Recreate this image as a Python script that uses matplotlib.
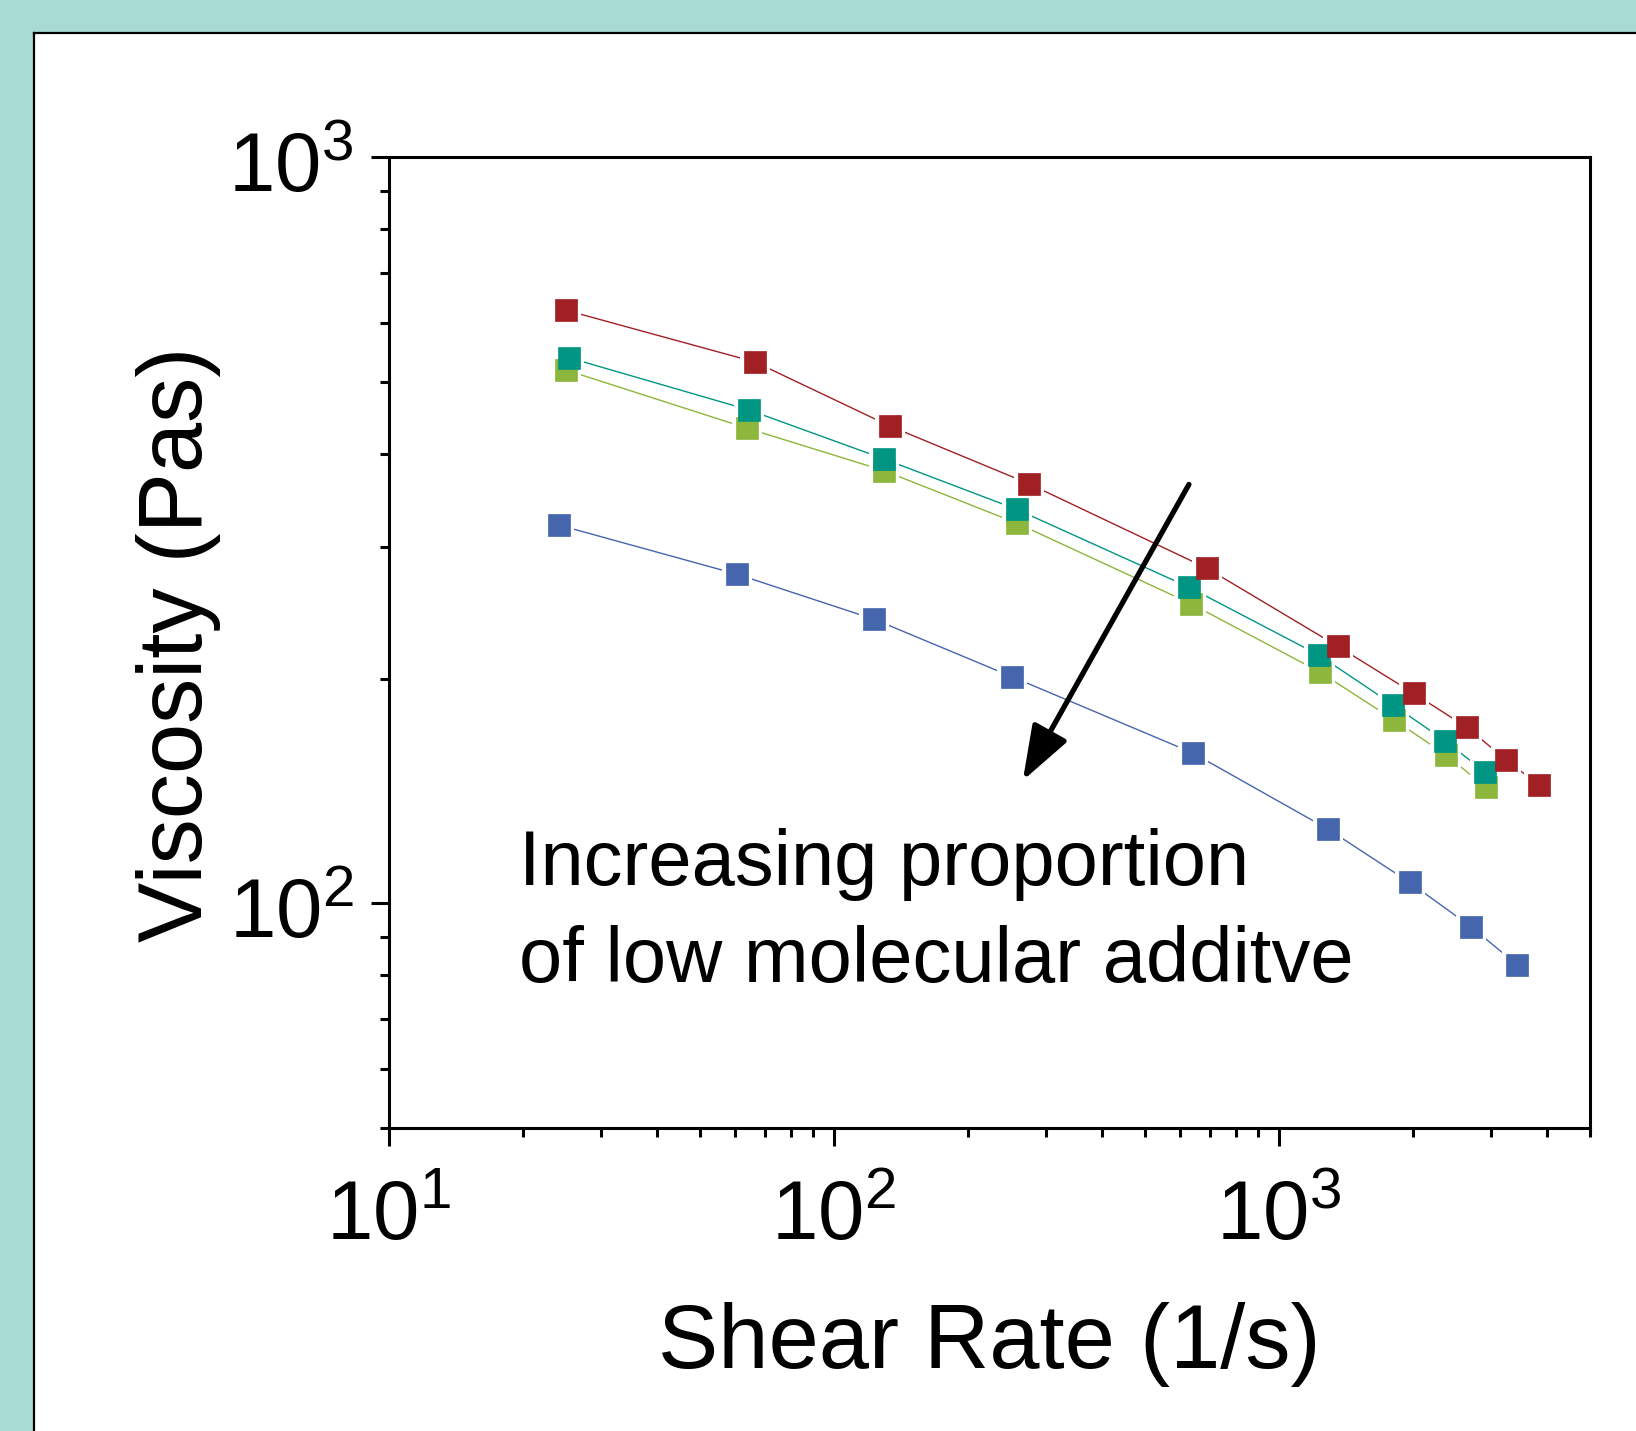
import numpy as np
import matplotlib
matplotlib.use("Agg")
import matplotlib.pyplot as plt
from matplotlib.lines import Line2D
from matplotlib.patches import Rectangle
from matplotlib.ticker import LogLocator, FuncFormatter, NullFormatter
from matplotlib.transforms import ScaledTranslation

plt.rcParams["font.family"] = ["Liberation Sans", "DejaVu Sans"]
plt.rcParams["mathtext.fontset"] = "custom"
plt.rcParams["mathtext.rm"] = "Liberation Sans"
plt.rcParams["mathtext.it"] = "Liberation Sans:italic"

# Shear rate (1/s) and viscosity (Pa s)
rate_red = [25.1, 66.7, 133.6, 274, 690, 1355, 2010, 2645, 3245, 3835]
visc_red = [623, 531, 436, 365, 281, 221, 191, 172, 155.5, 144]

rate_teal = [25.5, 64.6, 129.5, 258, 629, 1230, 1803, 2362, 2899]
visc_teal = [538, 458, 394, 337, 265, 215, 184.5, 165, 150]

rate_green = [25.1, 63.9, 129.5, 258, 634, 1237, 1815, 2376, 2915]
visc_green = [518, 433, 380, 323, 252, 204, 176, 158, 143]

rate_blue = [24.2, 60.6, 123.5, 252, 640, 1291, 1967, 2706, 3428]
visc_blue = [321, 276, 240, 201, 159, 125.6, 106.6, 92.9, 82.7]

series = [
    (rate_blue, visc_blue, "#4565AD"),
    (rate_green, visc_green, "#8DB63C"),
    (rate_teal, visc_teal, "#009683"),
    (rate_red, visc_red, "#A02024"),
]

W, H = 1636, 1431
fig = plt.figure(figsize=(W / 100, H / 100), dpi=100)
fig.patch.set_facecolor("#A8DBD4")

# white panel with black left/top edge
fig.patches.append(Rectangle((34 / W, 0), 1, 1 - 33 / H, transform=fig.transFigure,
                             facecolor="white", edgecolor="none", zorder=-10))
fig.lines.append(Line2D([34 / W, 34 / W], [0, 1 - 33 / H], transform=fig.transFigure,
                        color="black", lw=1.6, zorder=-5))
fig.lines.append(Line2D([34 / W, 1], [1 - 33 / H, 1 - 33 / H], transform=fig.transFigure,
                        color="black", lw=1.6, zorder=-5))

left, right, top, bottom = 388.5, 1590, 157, 1127.7
ax = fig.add_axes([left / W, 1 - bottom / H, (right - left) / W, (bottom - top) / H])
ax.set_facecolor("white")
ax.set_xscale("log")
ax.set_yscale("log")
ax.set_xlim(10, 5000)
ax.set_ylim(50, 1000)

for x, y, c in series:
    ax.plot(x, y, "-", color=c, lw=1.0, zorder=2)
for x, y, c in series:
    ax.plot(x, y, "s", ms=21, color="white", mew=0, ls="none", zorder=3)
for x, y, c in series:
    ax.plot(x, y, "s", ms=15.5, color=c, mec=c, mew=0.5, ls="none", zorder=4)

for s in ax.spines.values():
    s.set_linewidth(2.2)

ax.xaxis.set_major_locator(LogLocator(base=10, numticks=10))
ax.xaxis.set_minor_locator(LogLocator(base=10, subs=np.arange(2, 10), numticks=20))
ax.yaxis.set_major_locator(LogLocator(base=10, numticks=10))
ax.yaxis.set_minor_locator(LogLocator(base=10, subs=np.arange(2, 10), numticks=20))
fmt = FuncFormatter(lambda v, p: r"$\mathregular{10^{%d}}$" % round(np.log10(v)))
ax.xaxis.set_major_formatter(fmt)
ax.yaxis.set_major_formatter(fmt)
ax.xaxis.set_minor_formatter(NullFormatter())
ax.yaxis.set_minor_formatter(NullFormatter())

ax.tick_params(which="major", direction="out", length=13, width=2.2, labelsize=60,
               top=False, right=False)
ax.tick_params(which="minor", direction="out", length=6.5, width=2.2,
               top=False, right=False)
ax.tick_params(axis="x", which="major", pad=24)
ax.tick_params(axis="y", which="major", pad=12)
for lab in ax.get_yticklabels():
    lab.set_transform(lab.get_transform() + ScaledTranslation(0, -3 / 72, fig.dpi_scale_trans))

fig.text(989 / W, 1 - 1368 / H, "Shear Rate (1/s)", fontsize=65, ha="center", va="baseline")
fig.text(202 / W, 1 - 644 / H, "Viscosity (Pas)", fontsize=65, rotation=90,
         rotation_mode="anchor", ha="center", va="baseline")

ax.text(0.109, 0.250, "Increasing proportion", transform=ax.transAxes,
        fontsize=56, ha="left", va="baseline")
ax.text(0.109, 0.150, "of low molecular additve", transform=ax.transAxes,
        fontsize=56, ha="left", va="baseline")

ax.annotate("", xy=(266, 146), xytext=(628, 364),
            arrowprops=dict(arrowstyle="-|>,head_length=1.4,head_width=0.5",
                            mutation_scale=24, color="black", lw=3.8,
                            shrinkA=0, shrinkB=0))

fig.savefig("out.png", dpi=100, facecolor=fig.get_facecolor())
